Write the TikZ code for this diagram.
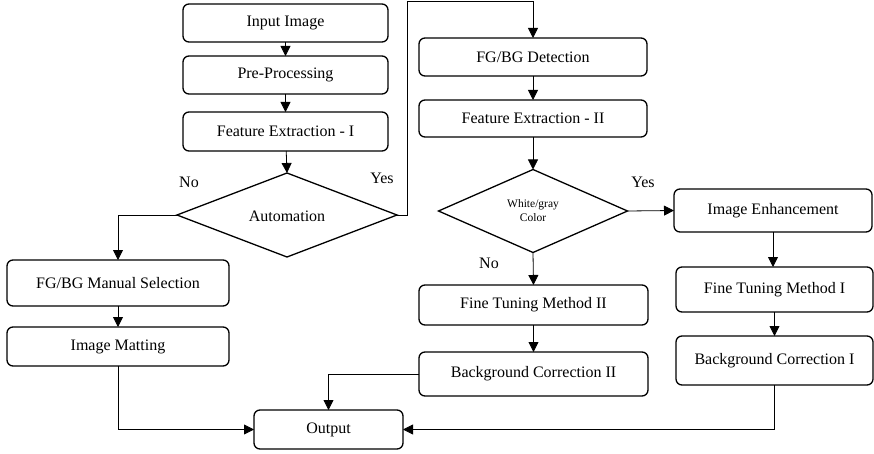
\documentclass[tikz,border=0pt]{standalone}
\usepackage{fontspec}
\setmainfont{Liberation Serif}
\usetikzlibrary{shapes.geometric,arrows.meta}
\begin{document}
\begin{tikzpicture}[x=1pt,y=-1pt,
  box/.style={draw, rounded corners=6pt, line width=1.3pt, inner sep=0pt, outer sep=0pt, font=\fontsize{16}{19}\selectfont},
  dia/.style={draw, shape=diamond, line width=1.3pt, inner sep=0pt, outer sep=0pt},
  conn/.style={line width=0.8pt, -{Triangle[length=10pt,width=10pt]}},
  plain/.style={line width=0.8pt},
  lbl/.style={font=\fontsize{16}{19}\selectfont, inner sep=0pt}]
\useasboundingbox (0,0) rectangle (874,454);
% left column
\node[box, minimum width=205pt, minimum height=38pt] (in) at (285.5,23) {Input Image};
\node[box, minimum width=205pt, minimum height=38pt] (pre) at (285.5,75) {Pre-Processing};
\node[box, minimum width=205pt, minimum height=39pt] (fe1) at (285.5,131.5) {Feature Extraction - I};
\node[dia, minimum width=220pt, minimum height=84pt] (auto) at (287,215) {};
\node[lbl] (autot) at (287,216) {Automation};
\node[box, minimum width=222pt, minimum height=46pt] (fgm) at (118,283) {FG/BG Manual Selection};
\node[box, minimum width=222pt, minimum height=39pt] (im) at (118,346.5) {Image Matting};
\node[box, minimum width=149pt, minimum height=39pt] (out) at (328.5,429.5) {Output};
% middle column
\node[box, minimum width=228pt, minimum height=38pt] (fgbg) at (533,57) {FG/BG Detection};
\node[box, minimum width=228pt, minimum height=37pt] (fe2) at (533,118.5) {Feature Extraction - II};
\node[dia, minimum width=189pt, minimum height=83pt] (wg) at (533,211) {};
\node[inner sep=0pt, align=center, font=\fontsize{11.5}{14}\selectfont] (wgt) at (533,211) {White/gray\\Color};
\node[box, minimum width=229pt, minimum height=40pt] (ft2) at (533.5,305) {Fine Tuning Method II};
\node[box, minimum width=229pt, minimum height=44pt] (bc2) at (533.5,374) {Background Correction II};
% right column
\node[box, minimum width=198pt, minimum height=43pt] (ie) at (773,210.5) {Image Enhancement};
\node[box, minimum width=197pt, minimum height=45pt] (ft1) at (774.5,289.5) {Fine Tuning Method I};
\node[box, minimum width=197pt, minimum height=49pt] (bc1) at (774.5,360.5) {Background Correction I};
% labels
\node[lbl] (no1) at (189,182) {No};
\node[lbl] (yes1) at (382,178) {Yes};
\node[lbl] (yes2) at (643,182) {Yes};
\node[lbl] (no2) at (489,263) {No};
% connectors
\coordinate (c1) at (407,215);
\coordinate (c2) at (407,1);
\draw[conn] (in) -- (pre);
\draw[conn] (pre) -- (fe1);
\draw[conn] (fe1) -- (auto.north);
\draw[conn] (auto.west) -| (fgm.north);
\draw[conn] (fgm) -- (im);
\draw[conn] (im.south) |- (out.west);
\draw[conn] (auto.east) -- (c1) -- (c2) -| (fgbg.north);
\draw[conn] (fgbg) -- (fe2);
\draw[conn] (fe2) -- (wg.north);
\draw[conn] (wg.south) -- (ft2.north);
\draw[conn] (ft2) -- (bc2);
\draw[conn] (bc2.west) -| (out.north);
\draw[conn] (wg.east) -- (ie.west);
\draw[conn] (ie.south) -- (ie.south |- ft1.north);
\draw[conn] (ft1) -- (bc1);
\draw[conn] (bc1.south) |- (out.east);
\end{tikzpicture}
\end{document}
